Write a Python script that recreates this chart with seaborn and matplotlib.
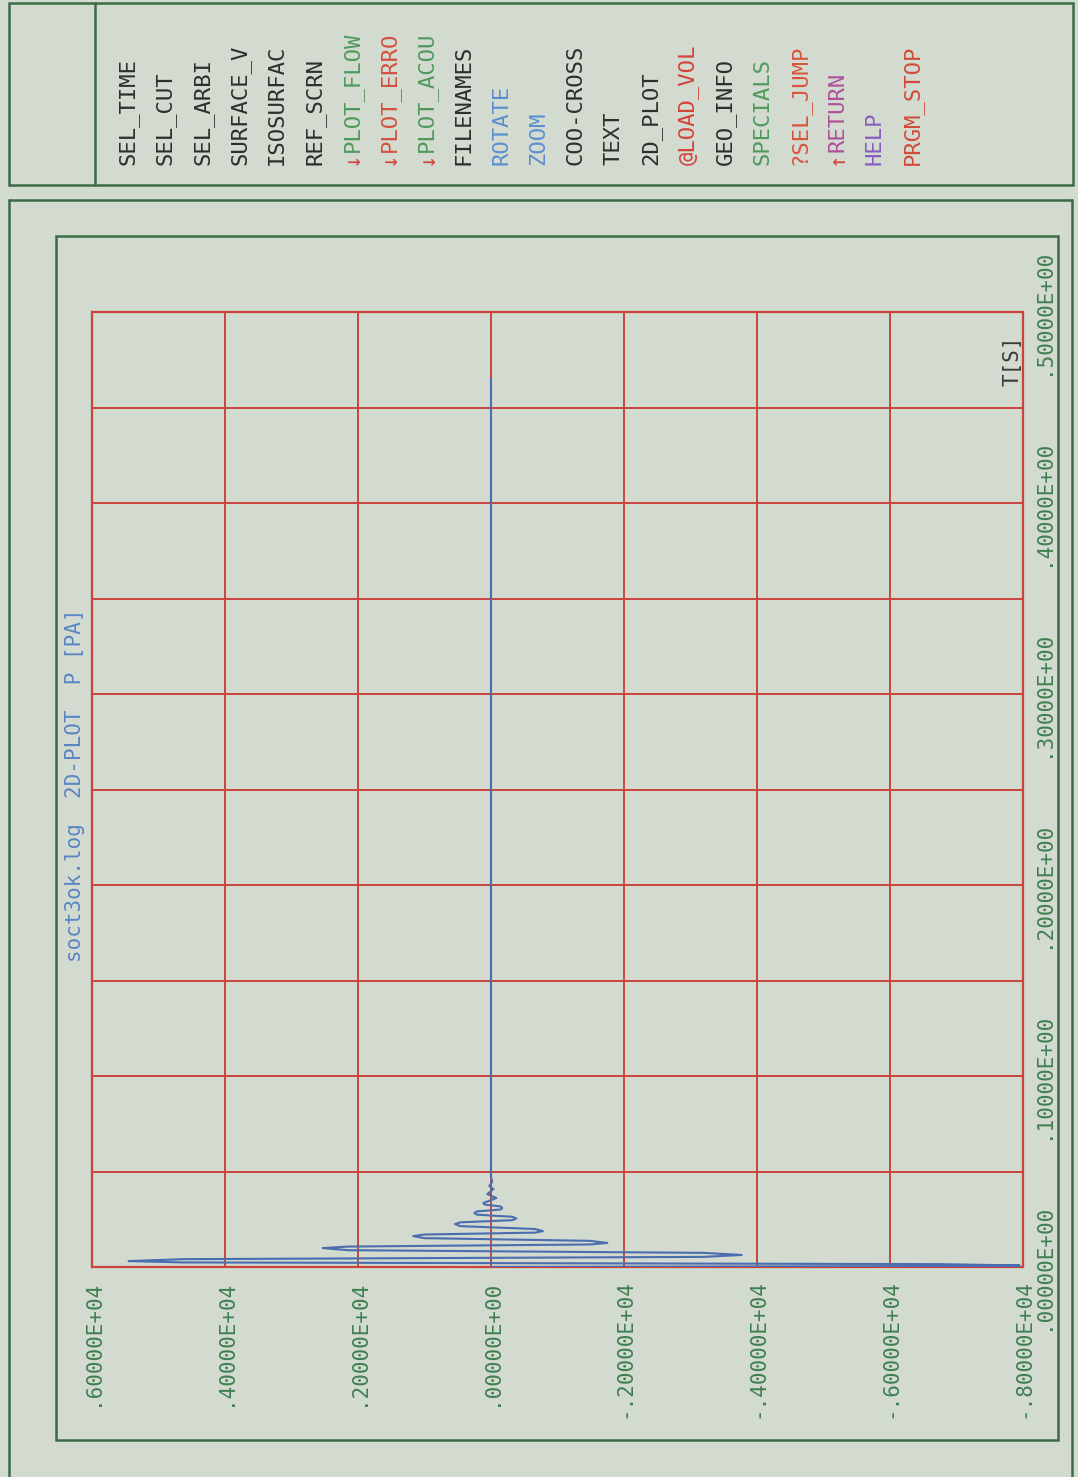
import matplotlib
matplotlib.use("Agg")
import matplotlib.pyplot as plt
import seaborn as sns
from matplotlib.patches import Rectangle
from matplotlib.lines import Line2D

time_s = [0.0, 0.0005, 0.0008,
          0.0015, 0.0024, 0.0031,
          0.0041, 0.0053, 0.0063,
          0.0074, 0.0088, 0.0099,
          0.0107, 0.0118, 0.0126,
          0.0137, 0.0151, 0.0162,
          0.0170, 0.0180, 0.0188,
          0.0199, 0.0214, 0.0225,
          0.0234, 0.0245, 0.0254,
          0.0263, 0.0274, 0.0283,
          0.0291, 0.0301, 0.0309,
          0.0317, 0.0327, 0.0335,
          0.0361, 0.0382, 0.0408, 0.0424, 0.0445, 0.0476, 0.465]
pressure_pa = [0, -7300, -7950,
               -6750, 4650, 5450,
               4630, -3200, -3770,
               -3200, 2150, 2530,
               2150, -1490, -1750,
               -1490, 1000, 1170,
               1000, -660, -780,
               -660, 460, 540,
               460, -320, -380,
               -320, 210, 250,
               210, -145, -170,
               -145, 98, 115,
               -80, 55, -37, 25, -17, 0, 0]

p_ticks = [6000, 4000, 2000, 0, -2000, -4000, -6000, -8000]
p_labels = ['.60000E+04', '.40000E+04', '.20000E+04', '.00000E+00',
            '-.20000E+04', '-.40000E+04', '-.60000E+04', '-.80000E+04']
t_ticks = [0.0, 0.05, 0.1, 0.15, 0.2, 0.25, 0.3, 0.35, 0.4, 0.45, 0.5]
t_labels = ['.00000E+00', '', '.10000E+00', '', '.20000E+00', '',
            '.30000E+00', '', '.40000E+00', '', '.50000E+00']

menu_labels = ['SEL_TIME', 'SEL_CUT', 'SEL_ARBI', 'SURFACE_V', 'ISOSURFAC',
               'REF_SCRN', 'PLOT_FLOW', 'PLOT_ERRO', 'PLOT_ACOU', 'FILENAMES',
               'ROTATE', 'ZOOM', 'COO-CROSS', 'TEXT', '2D_PLOT', '@LOAD_VOL',
               'GEO_INFO', 'SPECIALS', '?SEL_JUMP', 'RETURN', 'HELP', 'PRGM_STOP']
menu_prefix = ['', '', '', '', '', '', '↓', '↓', '↓', '', '', '', '', '', '',
               '', '', '', '', '↑', '', '']
menu_colors = ['#2e2e2e', '#2e2e2e', '#2e2e2e', '#2e2e2e', '#2e2e2e',
               '#2e2e2e', '#4f9a5c', '#d4503e', '#4f9a5c', '#2e2e2e',
               '#5b8fd2', '#5b8fd2', '#2e2e2e', '#2e2e2e', '#2e2e2e', '#d4443a',
               '#2e2e2e', '#4f9a5c', '#d8553f', '#b0509a', '#8a5cc0', '#d24a3c']

BG = '#d3dacf'
FRAME = '#3d6b47'
GRID_RED = '#c9443b'
LINE_BLUE = '#4a6db0'
TICK_GREEN = '#3f7f52'

W, H = 1078, 1477

sns.set_style('white', {'axes.facecolor': BG, 'figure.facecolor': BG})
plt.rcParams['font.family'] = ['DejaVu Sans Mono', 'DejaVu Sans']


def fx(px):
    return px / W


def fy(py):
    return 1 - py / H


fig = plt.figure(figsize=(W / 100, H / 100), dpi=100, facecolor=BG)
ax = fig.add_axes([fx(92), fy(1267), fx(1023) - fx(92), fy(312) - fy(1267)])

sns.lineplot(x=pressure_pa, y=time_s, sort=False, estimator=None,
             color=LINE_BLUE, lw=1.5, ax=ax, zorder=3)

ax.set_xlim(6000, -8000)
ax.set_ylim(0, 0.5)
ax.set_xlabel('')
ax.set_ylabel('')

ax.set_xticks(p_ticks)
ax.set_xticklabels(p_labels, rotation=90, color=TICK_GREEN, fontsize=15)
ax.yaxis.tick_right()
ax.set_yticks(t_ticks)
ax.set_yticklabels(t_labels, rotation=90, color=TICK_GREEN, fontsize=15)
plt.setp(ax.get_yticklabels(), va='center', ha='left')
ax.tick_params(axis='x', length=0, pad=9)
ax.tick_params(axis='y', length=0, pad=7)

ax.grid(True, color=GRID_RED, lw=1.4)
ax.set_axisbelow(True)
for s in ax.spines.values():
    s.set_color(GRID_RED)
    s.set_linewidth(1.6)

# Beschriftung
fig.text(fx(75), fy(962), 'soct3ok.log  2D-PLOT  P [PA]', rotation=90,
         ha='center', va='bottom', color='#5a86c4', fontsize=15)
fig.text(fx(1012), fy(361), 'T[S]', rotation=90, ha='center', va='center',
         color='#3a3a3a', fontsize=15)

# Rahmen
def box(x0, y0, x1, y1):
    fig.patches.append(Rectangle((fx(x0), fy(y1)), fx(x1) - fx(x0), fy(y0) - fy(y1),
                                 transform=fig.transFigure, fill=False,
                                 edgecolor=FRAME, lw=1.8))


def line(x0, y0, x1, y1):
    fig.lines.append(Line2D([fx(x0), fx(x1)], [fy(y0), fy(y1)],
                            transform=fig.transFigure, color=FRAME, lw=1.8))


box(9, 3, 1073, 185)
line(95, 3, 95, 185)
line(9, 200, 1072, 200)
line(9, 200, 9, 1477)
line(1072, 200, 1072, 1477)
box(56, 236, 1058, 1440)

# Menue
char_w = 0.602 * 16 * 100 / 72
for i, (lab, pre, col) in enumerate(zip(menu_labels, menu_prefix, menu_colors)):
    x = 128 + i * 37.33
    y0 = 165
    if pre:
        fig.text(fx(x), fy(y0), pre, rotation=90, ha='center', va='bottom',
                 color='#d4443a', fontsize=16)
        y0 -= char_w
    fig.text(fx(x), fy(y0), lab, rotation=90, ha='center', va='bottom',
             color=col, fontsize=16)

fig.savefig('out.png', dpi=100, facecolor=BG)
